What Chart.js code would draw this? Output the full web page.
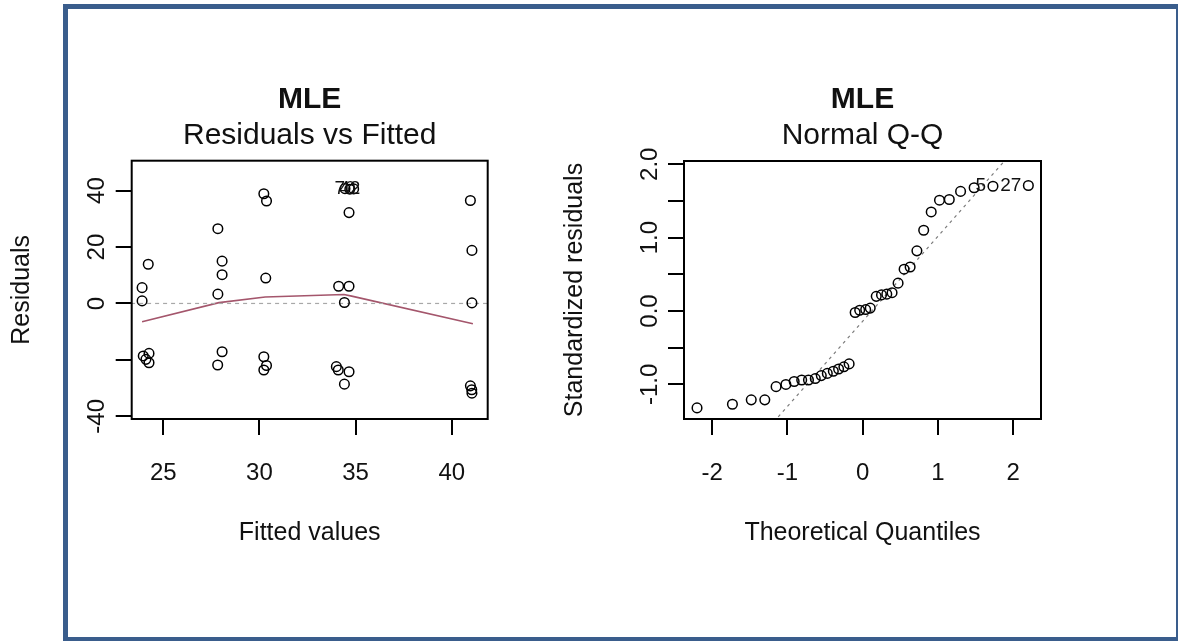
<!DOCTYPE html>
<html lang="en">
<head>
<meta charset="utf-8">
<title>MLE diagnostics</title>
<script src="https://cdn.jsdelivr.net/npm/chart.js@4.4.1/dist/chart.umd.min.js"></script>
<style>
  html, body { margin: 0; padding: 0; background: #fff; }
  body { width: 1180px; height: 641px; position: relative; overflow: hidden; }
  /* blue frame around both panels */
  .frame { position: absolute; left: 63px; top: 4px; width: 1115px; height: 637px; box-sizing: border-box;
           border: 5px solid #3a5d8c; border-right-width: 2px; border-bottom-width: 4px; }
  .panel { position: absolute; top: 0; height: 641px; }
  #left-panel { left: 0; width: 545px; }
  #right-panel { left: 545px; width: 635px; }
</style>
</head>
<body>
<div class="frame"></div>
<div class="panel" id="left-panel"><canvas id="chart-resid" width="545" height="641"></canvas></div>
<div class="panel" id="right-panel"><canvas id="chart-qq" width="635" height="641"></canvas></div>
<script>
/* Residuals vs Fitted */
const fittedValues = [
  23.90, 23.90, 24.22, 23.96, 24.26, 24.26, 24.10,
  27.84, 28.06, 28.06, 27.84, 28.06, 27.83,
  30.23, 30.37, 30.33, 30.23, 30.37, 30.23,
  34.45, 34.70, 34.90, 34.66, 34.12, 34.66, 34.42, 34.00, 34.10, 34.66, 34.42,
  40.97, 41.05, 41.05, 40.97, 41.04, 41.05
];
const residuals = [
  5.6, 0.9, 13.9, -18.6, -17.7, -21.0, -19.8,
  26.5, 15.0, 10.2, 3.3, -17.1, -21.8,
  38.9, 36.3, 9.0, -18.9, -22.0, -23.6,
  40.7, 40.5, 40.6, 32.2, 6.1, 6.1, 0.35, -22.4, -23.6, -24.2, -28.6,
  36.5, 18.8, 0.2, -29.2, -30.6, -31.8
];
const lowessFitted = [23.9, 27.9, 30.3, 34.4, 34.8, 41.1];
const lowessResiduals = [-6.5, 0.3, 2.3, 3.2, 2.6, -7.2];
const zeroLineX = [20, 45];
const zeroLineY = [0, 0];
const fittedTickValues = [25, 30, 35, 40];
const fittedTickLabels = ['25', '30', '35', '40'];
const residTickValues = [-40, -20, 0, 20, 40];
const residTickLabels = ['-40', '', '0', '20', '40'];
const residIdIndex = [19, 20];
const residIdText = ['70', '42'];

/* Normal Q-Q */
const theoreticalQuantiles = [
  -2.20, -1.73, -1.48, -1.30, -1.15, -1.02, -0.91, -0.81, -0.72, -0.63, -0.55, -0.47,
  -0.39, -0.32, -0.25, -0.18, -0.10, -0.04, 0.04, 0.10, 0.18, 0.25, 0.32, 0.39,
  0.47, 0.55, 0.63, 0.72, 0.81, 0.91, 1.02, 1.15, 1.30, 1.48, 1.73, 2.20
];
const standardizedResiduals = [
  -1.32, -1.27, -1.21, -1.21, -1.03, -1.00, -0.96, -0.94, -0.94, -0.92, -0.88, -0.85,
  -0.82, -0.79, -0.76, -0.72, -0.02, 0.01, 0.02, 0.04, 0.20, 0.22, 0.23, 0.25,
  0.38, 0.57, 0.60, 0.82, 1.10, 1.35, 1.51, 1.52, 1.63, 1.68, 1.70, 1.71
];
const qqLineX = [-2.6, 2.6];
const qqLineY = [-3.156, 2.876];
const qqXTickValues = [-2, -1, 0, 1, 2];
const qqXTickLabels = ['-2', '-1', '0', '1', '2'];
const qqYTickValues = [-1, -0.5, 0, 0.5, 1, 1.5, 2];
const qqYTickLabels = ['-1.0', '', '0.0', '', '1.0', '', '2.0'];
const qqIdIndex = [34, 35];
const qqIdText = ['5', '27'];

const FONT = '"Liberation Sans", Arial, Helvetica, sans-serif';
Chart.defaults.font.family = FONT;
Chart.defaults.color = '#111';

/* draws the R-style decorations: box, titles, rotated y tick labels, axis titles and point ids */
const rPlot = {
  id: 'rPlot',
  afterDatasetsDraw(chart, args, opts) {
    const ctx = chart.ctx;
    const area = chart.chartArea;
    const midX = (area.left + area.right) / 2;
    ctx.save();
    ctx.strokeStyle = '#000';
    ctx.lineWidth = 2;
    ctx.strokeRect(area.left, area.top, area.right - area.left, area.bottom - area.top);

    ctx.fillStyle = '#111';
    ctx.textAlign = 'center';
    ctx.textBaseline = 'middle';
    ctx.font = 'bold 30px ' + FONT;
    ctx.fillText(opts.title, midX, 100);
    ctx.font = '30px ' + FONT;
    ctx.fillText(opts.caption, midX, 136);
    ctx.font = '25px ' + FONT;
    ctx.fillText(opts.xTitle, midX, 533);

    /* y axis title and tick labels run upwards, as in R */
    ctx.save();
    ctx.translate(opts.yTitleX, (area.top + area.bottom) / 2);
    ctx.rotate(-Math.PI / 2);
    ctx.fillText(opts.yTitle, 0, 0);
    ctx.restore();

    const yScale = chart.scales.y;
    ctx.font = '24px ' + FONT;
    for (let i = 0; i < opts.yTickValues.length; i++) {
      if (opts.yTickLabels[i] === '') continue;
      const py = yScale.getPixelForValue(opts.yTickValues[i]);
      ctx.save();
      ctx.translate(area.left - 34, py);
      ctx.rotate(-Math.PI / 2);
      ctx.fillText(opts.yTickLabels[i], 0, 0);
      ctx.restore();
    }

    /* ids of the largest residuals */
    const punkter = chart.getDatasetMeta(0).data;
    ctx.font = '19px ' + FONT;
    ctx.textAlign = opts.idAlign;
    for (let i = 0; i < opts.idIndex.length; i++) {
      const p = punkter[opts.idIndex[i]];
      const dx = opts.idAlign === 'right' ? -7 : 0;
      ctx.fillText(opts.idText[i], p.x + dx, p.y);
    }
    ctx.restore();
  }
};

/* common scale setup: ticks pointing outwards, no grid inside the box.
   the x axis gets a tall box, since Chart.js clips tick labels to the scale box */
function lagAkse(min, max, tickValues, tickLabels, isX) {
  return {
    type: 'linear',
    min: min,
    max: max,
    border: { display: false },
    grid: { display: true, drawOnChartArea: false, drawTicks: true, tickLength: 16, color: '#000', lineWidth: 2 },
    afterBuildTicks: (axis) => { axis.ticks = tickValues.map(v => ({ value: v })); },
    afterFit: (axis) => { if (isX) axis.height = 90; else axis.width = 40; },
    ticks: {
      display: isX,
      autoSkip: false,
      maxRotation: 0,
      padding: 24,
      font: { size: 24 },
      color: '#111',
      callback: (val) => tickLabels[tickValues.indexOf(val)]
    }
  };
}

function punktSerie(xs, ys) {
  return xs.map((x, i) => ({ x: x, y: ys[i] }));
}

const cirkel = {
  pointStyle: 'circle', pointRadius: 4.8, pointBorderWidth: 1.5,
  borderColor: '#000', backgroundColor: 'transparent', showLine: false
};

new Chart(document.getElementById('chart-resid'), {
  type: 'scatter',
  data: {
    datasets: [
      Object.assign({ label: 'Residuals', data: punktSerie(fittedValues, residuals) }, cirkel),
      { label: 'zero', data: punktSerie(zeroLineX, zeroLineY), showLine: true, pointRadius: 0,
        borderColor: '#a8a8a8', borderWidth: 1.2, borderDash: [4, 4] },
      { label: 'lowess', data: punktSerie(lowessFitted, lowessResiduals), showLine: true, pointRadius: 0,
        borderColor: '#a4566c', borderWidth: 1.6 }
    ]
  },
  options: {
    responsive: false,
    animation: false,
    layout: { padding: { left: 91.7, right: 57.3, top: 160.7, bottom: 132 } },
    plugins: {
      legend: { display: false },
      tooltip: { enabled: false },
      rPlot: {
        title: 'MLE', caption: 'Residuals vs Fitted', xTitle: 'Fitted values', yTitle: 'Residuals', yTitleX: 22,
        yTickValues: residTickValues, yTickLabels: residTickLabels,
        idIndex: residIdIndex, idText: residIdText, idAlign: 'center'
      }
    },
    scales: {
      x: lagAkse(23.36, 41.87, fittedTickValues, fittedTickLabels, true),
      y: lagAkse(-40.95, 50.6, residTickValues, residTickLabels, false)
    }
  },
  plugins: [rPlot]
});

new Chart(document.getElementById('chart-qq'), {
  type: 'scatter',
  data: {
    datasets: [
      Object.assign({ label: 'Standardized residuals', data: punktSerie(theoreticalQuantiles, standardizedResiduals) }, cirkel),
      { label: 'qqline', data: punktSerie(qqLineX, qqLineY), showLine: true, pointRadius: 0,
        borderColor: '#7a7a7a', borderWidth: 1.2, borderDash: [3, 4] }
    ]
  },
  options: {
    responsive: false,
    animation: false,
    layout: { padding: { left: 99, right: 139, top: 161, bottom: 132 } },
    plugins: {
      legend: { display: false },
      tooltip: { enabled: false },
      rPlot: {
        title: 'MLE', caption: 'Normal Q-Q', xTitle: 'Theoretical Quantiles', yTitle: 'Standardized residuals', yTitleX: 30,
        yTickValues: qqYTickValues, yTickLabels: qqYTickLabels,
        idIndex: qqIdIndex, idText: qqIdText, idAlign: 'right'
      }
    },
    scales: {
      x: lagAkse(-2.373, 2.368, qqXTickValues, qqXTickLabels, true),
      y: lagAkse(-1.471, 2.044, qqYTickValues, qqYTickLabels, false)
    }
  },
  plugins: [rPlot]
});
</script>
</body>
</html>
